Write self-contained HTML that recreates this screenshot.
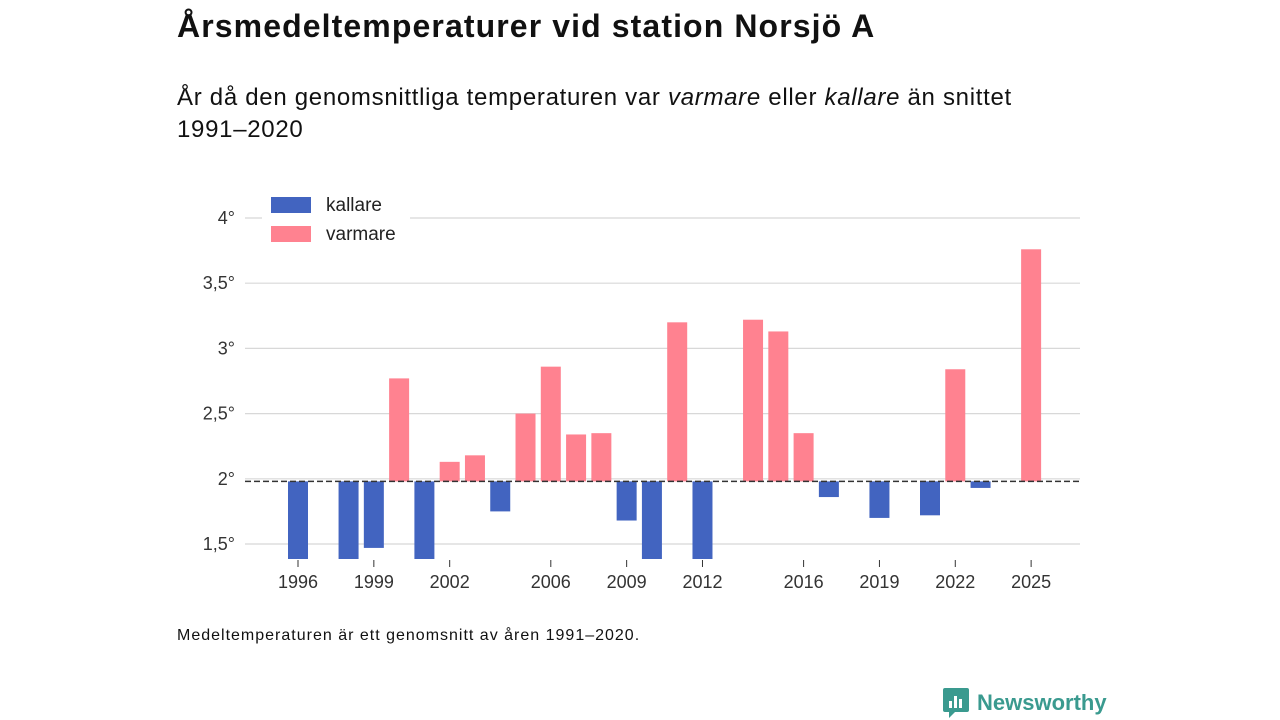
<!DOCTYPE html>
<html><head><meta charset="utf-8"><style>
body{margin:0;width:1280px;height:720px;background:#fff;font-family:"Liberation Sans",sans-serif;color:#111;position:relative;overflow:hidden}
.t{position:absolute;left:177px;top:8px;font-size:32px;font-weight:bold;letter-spacing:1.1px}
.s{position:absolute;left:177px;top:82px;font-size:24px;line-height:32px;letter-spacing:0.7px}
.f{position:absolute;left:177px;top:627px;font-size:16px;letter-spacing:1px}
.logo{position:absolute;left:943px;top:688px;font-size:22px;font-weight:bold;color:#3a9a8f;display:flex;align-items:center;gap:8px}
</style></head><body>
<div class="t">Årsmedeltemperaturer vid station Norsjö A</div>
<div class="s">År då den genomsnittliga temperaturen var <i>varmare</i> eller <i>kallare</i> än snittet<br>1991–2020</div>
<svg id="c" width="1280" height="720" style="position:absolute;left:0;top:0"></svg>
<div class="f">Medeltemperaturen är ett genomsnitt av åren 1991–2020.</div>
<div class="logo"><svg width="26" height="30"><path d="M0 2 Q0 0 2 0 H24 Q26 0 26 2 V22 Q26 24 24 24 H12 L6 30 V24 H2 Q0 24 0 22Z" fill="#3a9a8f"/><rect x="6" y="13" width="3" height="7" fill="#fff"/><rect x="11" y="8" width="3" height="12" fill="#fff"/><rect x="16" y="11" width="3" height="9" fill="#fff"/></svg>Newsworthy</div>
<script>
const years=[1996,1998,1999,2000,2001,2002,2003,2004,2005,2006,2007,2008,2009,2010,2011,2012,2014,2015,2016,2017,2019,2021,2022,2023,2025];
const values=[1.2,1.2,1.47,2.77,1.2,2.13,2.18,1.75,2.5,2.86,2.34,2.35,1.68,1.2,3.2,1.2,3.22,3.13,2.35,1.86,1.7,1.72,2.84,1.93,3.76];
const baseline=1.98;
const yTicks=[1.5,2,2.5,3,3.5,4];
const yLabels=["1,5°","2°","2,5°","3°","3,5°","4°"];
const xTicks=[1996,1999,2002,2006,2009,2012,2016,2019,2022,2025];
const svg=document.getElementById('c');const NS='http://www.w3.org/2000/svg';
const yMin=1.385,yMax=4;
const y=v=>218+(4-Math.max(v,yMin))*130.4;
const x=yr=>298+(yr-1996)*25.28;
function mk(t,a,txt){const e=document.createElementNS(NS,t);for(const k in a)e.setAttribute(k,a[k]);if(txt!=null)e.textContent=txt;svg.appendChild(e);return e;}
yTicks.forEach((v,i)=>{
 const g=mk('line',{x1:245,x2:1080,y1:y(v),y2:y(v),stroke:'#d8d8d8','stroke-width':1.2});
 
 
 const t=mk('text',{x:235,y:y(v)+6,'text-anchor':'end','font-size':18,fill:'#333','font-family':'Liberation Sans, sans-serif'},yLabels[i]);
 
 
});
years.forEach((yr,i)=>{
 const v=values[i];const top=Math.min(y(v),y(baseline)),bot=Math.max(y(v),y(baseline));
 const r=mk('rect',{x:x(yr)-10,y:top,width:20,height:bot-top,fill:v>=baseline?'#ff8290':'#4264c0'});
 
 
});
xTicks.forEach(yr=>{
 const l=mk('line',{x1:x(yr),x2:x(yr),y1:560,y2:567,stroke:'#333'});
 
 
 const t=mk('text',{x:x(yr),y:588,'text-anchor':'middle','font-size':18,fill:'#333','font-family':'Liberation Sans, sans-serif'},yr);
 
 
});
const bl=mk('line',{x1:245,x2:1080,y1:y(baseline),y2:y(baseline),stroke:'#333','stroke-width':1.5,'stroke-dasharray':'6,3'});


const lb=mk('rect',{x:262,y:190,width:148,height:60,fill:'#fff'});


[['kallare','#4264c0',205],['varmare','#ff8290',234]].forEach(([n,c,yy])=>{
 const r=mk('rect',{x:271,y:yy-8,width:40,height:16,fill:c});
 
 
 const t=mk('text',{x:326,y:yy+6,'font-size':19,fill:'#222','font-family':'Liberation Sans, sans-serif'},n);
 
 
});
</script>
</body></html>
